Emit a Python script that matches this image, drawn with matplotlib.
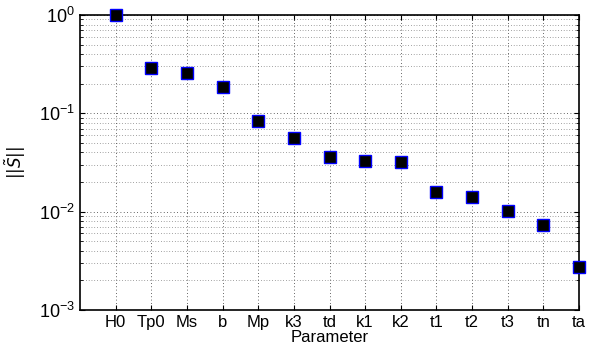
import matplotlib
matplotlib.use('Agg')
import matplotlib.pyplot as plt
import numpy as np

plt.rcParams['font.family'] = ['Liberation Sans', 'DejaVu Sans']
plt.rcParams['mathtext.fontset'] = 'dejavusans'

params = ['H0', 'Tp0', 'Ms', 'b', 'Mp', 'k3', 'td', 'k1', 'k2', 't1', 't2', 't3', 'tn', 'ta']
s_norm = [1.0, 0.289, 0.257, 0.187, 0.0835, 0.0565, 0.0362, 0.033, 0.032,
          0.0157, 0.0141, 0.0101, 0.00736, 0.00273]

fig = plt.figure(figsize=(5.99, 3.56), dpi=100)
ax = fig.add_axes([80/599, 1 - 310/356, (579-80)/599, (310-15)/356])

x = np.arange(1, len(params) + 1)
ax.semilogy(x, s_norm, linestyle='none', marker='s', markersize=8,
            markerfacecolor='black', markeredgecolor='blue', markeredgewidth=1,
            clip_on=False, zorder=5)

ax.set_xlim(0, 14)
ax.set_ylim(1e-3, 1)
ax.set_xticks(x)
ax.set_xticklabels(params, fontsize=12)
ax.set_yticks([1e-3, 1e-2, 1e-1, 1])
ax.tick_params(axis='both', which='both', direction='in', top=True, right=True)
ax.tick_params(axis='y', labelsize=13)
ax.tick_params(axis='x', which='minor', bottom=False, top=False)
ax.grid(True, which='major', linestyle=(0, (1, 3)), color='0.2', linewidth=0.6)
ax.grid(True, which='minor', axis='y', linestyle=(0, (1, 3)), color='0.3', linewidth=0.5)
for sp in ax.spines.values():
    sp.set_linewidth(1.2)

ax.set_xlabel('Parameter', fontsize=12, labelpad=0)
ax.set_ylabel(r'$||\tilde{S}||$', fontsize=12)
ax.yaxis.set_label_coords(-0.105, 0.5)

plt.savefig('out.png', dpi=100)
